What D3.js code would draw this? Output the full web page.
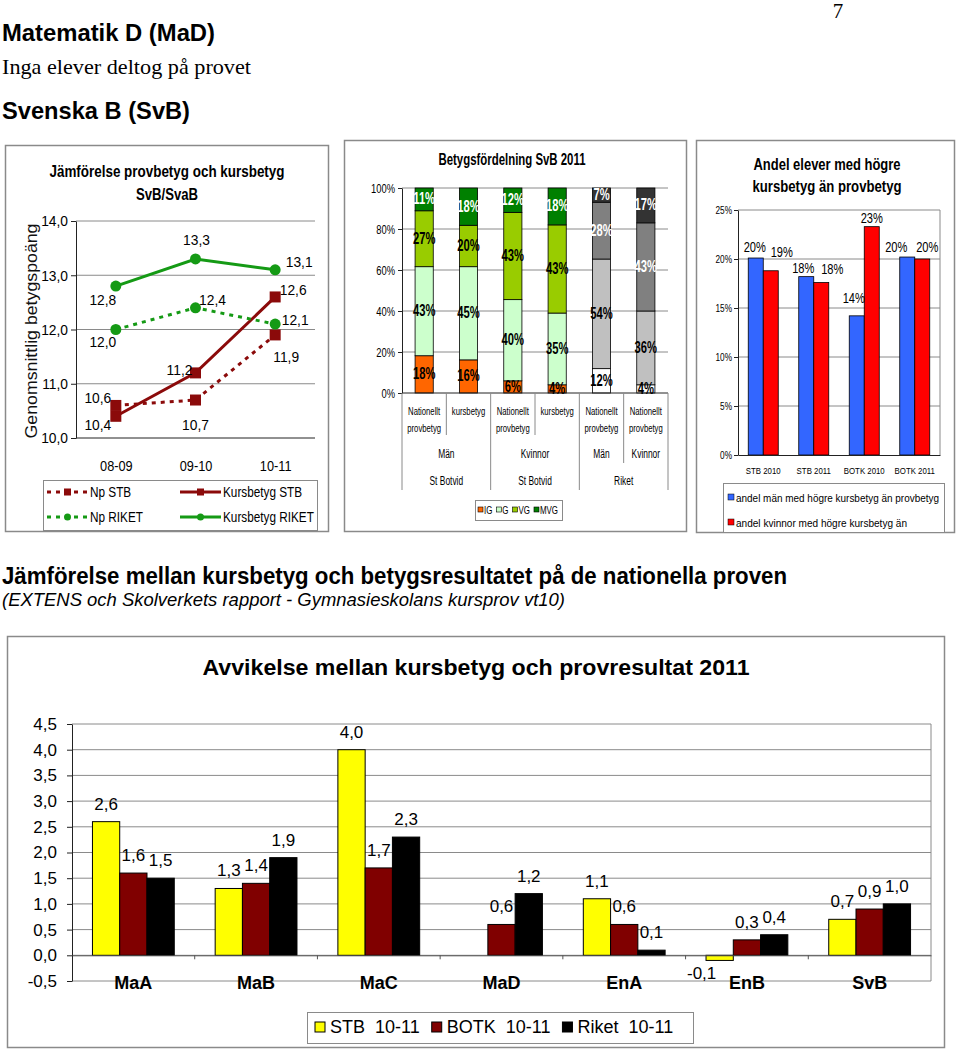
<!DOCTYPE html>
<html><head><meta charset="utf-8">
<script src="https://cdn.jsdelivr.net/npm/d3@7/dist/d3.min.js"></script>
<style>
html,body{margin:0;padding:0;background:#fff;}
svg{display:block;}
svg text{font-family:"Liberation Sans",Arial,Helvetica,sans-serif;}
</style></head>
<body><svg id="page" width="960" height="1053"></svg>
<script>
// ================= DATA =================
// Chart 1: line chart
const lineYears = ["08-09","09-10","10-11"];
const lineSeriesNames = ["Np STB","Kursbetyg STB","Np RIKET","Kursbetyg RIKET"];
const npSTB = [10.6,10.7,11.9];
const kursSTB = [10.4,11.2,12.6];
const npRiket = [12.0,12.4,12.1];
const kursRiket = [12.8,13.3,13.1];
const lineTicks = [10,11,12,13,14];

// Chart 2: 100% stacked distribution
const gradeNames = ["IG","G","VG","MVG"];
const distLevel1 = ["Nationellt provbetyg","kursbetyg","Nationellt provbetyg","kursbetyg","Nationellt provbetyg","Nationellt provbetyg"];
const distLevel2 = ["Män","Kvinnor","Män","Kvinnor"];
const distLevel2Span = [2,2,1,1];
const distLevel3 = ["St Botvid","St Botvid","Riket"];
const distLevel3Span = [2,2,2];
const distIG  = [18,16,6,4,12,4];
const distG   = [43,45,40,35,54,36];
const distVG  = [27,20,43,43,28,43];
const distMVG = [11,18,12,18,7,17];
const distTicks = [0,0.2,0.4,0.6,0.8,1];

// Chart 3: share with higher course grade
const shareCats = ["STB 2010","STB 2011","BOTK 2010","BOTK 2011"];
const shareMen   = [20.1,18.2,14.2,20.2];
const shareWomen = [18.8,17.6,23.3,20.0];
const shareNames = ["andel män med högre kursbetyg än provbetyg","andel kvinnor med högre kursbetyg än"];
const shareTicks = [0,5,10,15,20,25];

// Chart 4: deviation per course
const courses  = ["MaA","MaB","MaC","MaD","EnA","EnB","SvB"];
const devSTB   = [2.6,1.3,4.0,null,1.1,-0.1,0.7];
const devBOTK  = [1.6,1.4,1.7,0.6,0.6,0.3,0.9];
const devRiket = [1.5,1.9,2.3,1.2,0.1,0.4,1.0];
const devNames = ["STB  10-11","BOTK  10-11","Riket  10-11"];
const devTicks = [-0.5,0,0.5,1,1.5,2,2.5,3,3.5,4,4.5];

// ================= STYLE / LAYOUT =================
const SERIF = '"Liberation Serif","Times New Roman",serif';
const RED = "#8b0a0a", GREEN = "#159a15";
const greenPal = ["#FF6600","#CCFFCC","#99CC00","#008000"];
const greyPal  = ["#FFFFFF","#C0C0C0","#808080","#333333"];
const greenTxt = ["#000","#000","#000","#fff"];
const greyTxt  = ["#000","#000","#fff","#fff"];
// label nudges (dx, dy from default placement)
const lineLabelNudge = [
  [[-18,-2],[0,30],[11,27]],
  [[-18,14],[-16,2],[18,-2]],
  [[-13,17],[17,-3],[20,1]],
  [[-13,19],[1,-14],[24,-3]]
];
const shareNudge = [
  [[-1,-2],[-3,0],[-3,-9],[-11,-1]],
  [[11,-10],[11,-5],[0,0],[5,-3]]
];
const negLabelShift = -18;

const svg = d3.select("#page");
const comma1 = d => d3.format(".1f")(d).replace("\u2212","-").replace(".", ",");

function squeeze(sel, f){
  sel.each(function(){
    const w = this.getComputedTextLength();
    if (w > 0 && f !== 1) d3.select(this).attr("textLength", w*f).attr("lengthAdjust","spacingAndGlyphs");
  });
  return sel;
}
function textW(t){ return +t.attr("textLength") || t.node().getComputedTextLength(); }
function addText(parent, s, x, y, o = {}){
  const t = parent.append("text").attr("x", x).attr("y", y).text(s)
    .attr("text-anchor", o.anchor || "start")
    .style("font-size", (o.size || 12) + "px")
    .style("font-weight", o.bold ? "bold" : "normal")
    .attr("fill", o.fill || "#000");
  if (o.italic) t.style("font-style","italic");
  if (o.family) t.style("font-family", o.family);
  if (o.pre) t.style("white-space","pre");
  if (o.width) t.attr("textLength", o.width).attr("lengthAdjust","spacingAndGlyphs");
  else if (o.squeeze) squeeze(t, o.squeeze);
  return t;
}
function styleAxis(ax, size, f, col){
  ax.select(".domain").attr("stroke", col || "#222").attr("stroke-width",1);
  ax.selectAll(".tick line").attr("stroke", col || "#222");
  ax.selectAll(".tick text").style("font-size", size+"px").attr("fill","#000");
  if (f) squeeze(ax.selectAll(".tick text"), f);
}

// ================= PAGE TEXT =================
addText(svg,"7",838,18,{anchor:"middle",size:21,family:SERIF});
addText(svg,"Matematik D (MaD)",2,41,{size:24,bold:true,width:213});
addText(svg,"Inga elever deltog på provet",2,74,{size:21,family:SERIF,width:249});
addText(svg,"Svenska B (SvB)",2,119,{size:24,bold:true,width:188});
addText(svg,"Jämförelse mellan kursbetyg och betygsresultatet på de nationella proven",2,584,{size:23,bold:true,width:785});
addText(svg,"(EXTENS och Skolverkets rapport - Gymnasieskolans kursprov vt10)",2,606,{size:18,italic:true,width:563});

// ================= CHART 1 =================
(function(){
  const g = svg.append("g");
  g.append("rect").attr("x",5.5).attr("y",145.5).attr("width",323).attr("height",386)
    .attr("fill","none").attr("stroke","#8a8a8a").attr("stroke-width",1.5);
  addText(g,"Jämförelse provbetyg och kursbetyg",167,177,{anchor:"middle",size:16,bold:true,width:235});
  addText(g,"SvB/SvaB",167,200,{anchor:"middle",size:16,bold:true,width:62});

  const x = d3.scalePoint().domain(lineYears).range([76,315]).padding(0.5);
  const y = d3.scaleLinear().domain([10,14]).range([438,221]);

  g.append("g").selectAll("line").data(lineTicks.slice(1)).join("line")
    .attr("x1",76).attr("x2",315).attr("y1",d=>y(d)).attr("y2",d=>y(d))
    .attr("stroke","#8a8a8a");
  const ay = g.append("g").attr("transform","translate(76,0)")
    .call(d3.axisLeft(y).tickValues(lineTicks).tickSize(5).tickPadding(3).tickSizeOuter(0).tickFormat(comma1));
  styleAxis(ay, 15, 0.92);
  const ax = g.append("g").attr("transform","translate(0,438)")
    .call(d3.axisBottom(x).tickSize(0).tickPadding(22));
  styleAxis(ax, 15, 0.85);
  ax.select(".domain").attr("d","M76,0H315");

  addText(g,"Genomsnittlig betygspoäng",0,0,{anchor:"middle",size:17,width:215,fill:"#111"})
    .attr("transform","translate(37,331) rotate(-90)");

  const series = [
    {name:lineSeriesNames[0], v:npSTB,     c:RED,   dash:"4,5", m:"square"},
    {name:lineSeriesNames[1], v:kursSTB,   c:RED,   dash:null,  m:"square"},
    {name:lineSeriesNames[2], v:npRiket,   c:GREEN, dash:"4,5", m:"circle"},
    {name:lineSeriesNames[3], v:kursRiket, c:GREEN, dash:null,  m:"circle"}
  ];
  const line = d3.line().x((d,i)=>x(lineYears[i])).y(d=>y(d));
  function marker(parent, cx, cy, type, col, s){
    if (type === "square") parent.append("rect").attr("x",cx-s/2).attr("y",cy-s/2).attr("width",s).attr("height",s).attr("fill",col);
    else parent.append("circle").attr("cx",cx).attr("cy",cy).attr("r",s/2).attr("fill",col);
  }
  series.forEach(s=>{
    g.append("path").attr("d",line(s.v)).attr("fill","none").attr("stroke",s.c)
      .attr("stroke-width",3).attr("stroke-dasharray",s.dash);
  });
  series.forEach(s=>{
    s.v.forEach((d,i)=> marker(g, x(lineYears[i]), y(d), s.m, s.c, 11));
  });
  series.forEach((s,si)=>{
    s.v.forEach((d,i)=>{
      const n = lineLabelNudge[si][i];
      addText(g, comma1(d), x(lineYears[i])+n[0], y(d)+n[1], {anchor:"middle",size:15,squeeze:0.92});
    });
  });

  // legend
  const lg = g.append("g");
  lg.append("rect").attr("x",43.5).attr("y",480.5).attr("width",274).attr("height",50)
    .attr("fill","#fff").attr("stroke","#8a8a8a");
  series.forEach((s,i)=>{
    const col = i % 2, row = Math.floor(i/2);
    const x0 = 47 + col*133, yy = 492 + row*25;
    lg.append("line").attr("x1",x0).attr("x2",x0+41).attr("y1",yy).attr("y2",yy)
      .attr("stroke",s.c).attr("stroke-width",3).attr("stroke-dasharray",s.dash);
    marker(lg, x0+20.5, yy, s.m, s.c, 7);
    addText(lg, s.name, x0+43, yy+5, {size:14,squeeze:0.84});
  });
})();

// ================= CHART 2 =================
(function(){
  const g = svg.append("g");
  g.append("rect").attr("x",344.5).attr("y",140.5).attr("width",342).attr("height",391)
    .attr("fill","none").attr("stroke","#8a8a8a").attr("stroke-width",1.5);
  addText(g,"Betygsfördelning SvB 2011",512,165,{anchor:"middle",size:16,bold:true,width:147});

  const n = distIG.length;
  const x = d3.scaleBand().domain(d3.range(n)).range([402,668]);
  const y = d3.scaleLinear().domain([0,1]).range([393,188]);
  const bw = x.bandwidth()*0.41;

  g.append("g").selectAll("line").data(distTicks.slice(1)).join("line")
    .attr("x1",402).attr("x2",668).attr("y1",d=>y(d)).attr("y2",d=>y(d)).attr("stroke","#8a8a8a");

  const site = [];
  distLevel3.forEach((l,j)=>{ for (let k=0;k<distLevel3Span[j];k++) site.push(l); });
  const rows = d3.range(n).map(i=>({IG:distIG[i],G:distG[i],VG:distVG[i],MVG:distMVG[i]}));
  const stacked = d3.stack().keys(gradeNames).offset(d3.stackOffsetExpand)(rows);

  stacked.forEach((layer,li)=>{
    g.append("g").selectAll("rect").data(layer).join("rect")
      .attr("x",(d,i)=>x(i)+(x.bandwidth()-bw)/2).attr("width",bw)
      .attr("y",d=>y(d[1])).attr("height",d=>y(d[0])-y(d[1]))
      .attr("fill",(d,i)=>(site[i]==="Riket"?greyPal:greenPal)[li])
      .attr("stroke","#000").attr("stroke-width",0.8);
  });

  const ay = g.append("g").attr("transform","translate(402,0)")
    .call(d3.axisLeft(y).tickValues(distTicks).tickSize(4).tickPadding(3).tickSizeOuter(0).tickFormat(d3.format(".0%")));
  styleAxis(ay, 13, 0.72);
  g.append("line").attr("x1",402).attr("x2",668).attr("y1",393).attr("y2",393).attr("stroke","#222");

  stacked.forEach((layer,li)=>{
    layer.forEach((d,i)=>{
      addText(g, rows[i][layer.key]+"%", x(i)+x.bandwidth()/2, y((d[0]+d[1])/2)+5,
        {anchor:"middle",size:16,bold:true,squeeze:0.7,fill:(site[i]==="Riket"?greyTxt:greenTxt)[li]});
    });
  });

  // multi-level category axis
  const b3 = new Set([0]); let c = 0; distLevel3Span.forEach(s=>{ c+=s; b3.add(c); });
  const b2 = new Set([0]); c = 0; distLevel2Span.forEach(s=>{ c+=s; b2.add(c); });
  d3.range(n+1).forEach(e=>{
    const xe = e < n ? x(e) : x.range()[1];
    const depth = b3.has(e) ? 490 : (b2.has(e) ? 463 : 435);
    g.append("line").attr("x1",xe).attr("x2",xe).attr("y1",393).attr("y2",depth).attr("stroke","#8a8a8a");
  });
  distLevel1.forEach((lab,i)=>{
    lab.split(" ").forEach((w,k)=>{
      addText(g, w, x(i)+x.bandwidth()/2, 415+17*k, {anchor:"middle",size:11,squeeze:0.7});
    });
  });
  c = 0;
  distLevel2.forEach((lab,j)=>{
    const cx = (x(c) + x(c+distLevel2Span[j]-1) + x.bandwidth())/2;
    addText(g, lab, cx, 458, {anchor:"middle",size:12,squeeze:0.7});
    c += distLevel2Span[j];
  });
  c = 0;
  distLevel3.forEach((lab,j)=>{
    const cx = (x(c) + x(c+distLevel3Span[j]-1) + x.bandwidth())/2;
    addText(g, lab, cx, 485, {anchor:"middle",size:12,squeeze:0.7});
    c += distLevel3Span[j];
  });

  // legend
  const lg = g.append("g");
  lg.append("rect").attr("x",475.5).attr("y",500.5).attr("width",87).attr("height",20)
    .attr("fill","#fff").attr("stroke","#8a8a8a");
  let cx = 478;
  gradeNames.forEach((k,i)=>{
    lg.append("rect").attr("x",cx).attr("y",507).attr("width",5).attr("height",5)
      .attr("fill",greenPal[i]).attr("stroke","#000").attr("stroke-width",0.6);
    const t = addText(lg, k, cx+6, 514, {size:11,squeeze:0.72});
    cx += 6 + textW(t) + 4;
  });
})();

// ================= CHART 3 =================
(function(){
  const g = svg.append("g");
  g.append("rect").attr("x",696.5).attr("y",140.5).attr("width",258).attr("height",392)
    .attr("fill","none").attr("stroke","#8a8a8a").attr("stroke-width",1.5);
  addText(g,"Andel elever med högre",827,170,{anchor:"middle",size:16,bold:true,width:147});
  addText(g,"kursbetyg än provbetyg",827,192,{anchor:"middle",size:16,bold:true,width:149});

  const x = d3.scaleBand().domain(shareCats).range([738,940]);
  const y = d3.scaleLinear().domain([0,25]).range([455,210]);
  const xs = d3.scaleBand().domain([0,1]).range([0,30]);
  const off = (x.bandwidth()-30)/2;

  g.append("g").selectAll("line").data(shareTicks.slice(1)).join("line")
    .attr("x1",738).attr("x2",940).attr("y1",d=>y(d)).attr("y2",d=>y(d)).attr("stroke","#8a8a8a");
  g.append("line").attr("x1",940).attr("x2",940).attr("y1",210).attr("y2",455).attr("stroke","#8a8a8a");

  const sets = [shareMen, shareWomen];
  const cols = ["#3366FF","#FF0000"];
  sets.forEach((vals,si)=>{
    g.append("g").selectAll("rect").data(vals).join("rect")
      .attr("x",(d,i)=>x(shareCats[i])+off+xs(si)).attr("width",xs.bandwidth())
      .attr("y",d=>y(d)).attr("height",d=>y(0)-y(d))
      .attr("fill",cols[si]).attr("stroke","#000").attr("stroke-width",0.8);
  });

  const ay = g.append("g").attr("transform","translate(738,0)")
    .call(d3.axisLeft(y).tickValues(shareTicks).tickSize(4).tickPadding(2).tickSizeOuter(0).tickFormat(d=>d+"%"));
  styleAxis(ay, 11, 0.75);
  const ax = g.append("g").attr("transform","translate(0,455)")
    .call(d3.axisBottom(x).tickSize(0).tickPadding(12).tickSizeOuter(0));
  styleAxis(ax, 9.8, 0.8);

  sets.forEach((vals,si)=>{
    vals.forEach((d,i)=>{
      const nd = shareNudge[si][i];
      addText(g, Math.round(d)+"%", x(shareCats[i])+off+xs(si)+xs.bandwidth()/2+nd[0], y(d)-4+nd[1],
        {anchor:"middle",size:15,squeeze:0.74});
    });
  });

  const lg = g.append("g");
  lg.append("rect").attr("x",723.5).attr("y",483.5).attr("width",221).attr("height",49)
    .attr("fill","#fff").attr("stroke","#8a8a8a");
  shareNames.forEach((nm,i)=>{
    const yy = 497 + i*25;
    lg.append("rect").attr("x",728).attr("y",yy-3).attr("width",6).attr("height",6)
      .attr("fill",cols[i]).attr("stroke","#000").attr("stroke-width",0.5);
    addText(lg, nm, 736, yy+5, {size:10.5,width: i===0 ? 203 : 171});
  });
})();

// ================= CHART 4 =================
(function(){
  const g = svg.append("g");
  g.append("rect").attr("x",7.5).attr("y",636.5).attr("width",937).attr("height",411)
    .attr("fill","none").attr("stroke","#8a8a8a").attr("stroke-width",1.5);
  addText(g,"Avvikelse mellan kursbetyg och provresultat 2011",476,675,{anchor:"middle",size:22,bold:true,width:547});

  const x = d3.scaleBand().domain(courses).range([72,931]);
  const groupW = x.bandwidth()/1.5;
  const xs = d3.scaleBand().domain(devNames).range([0,groupW]);
  const off = (x.bandwidth()-groupW)/2;
  const y = d3.scaleLinear().domain([-0.5,4.5]).range([981,724]);

  g.append("g").selectAll("line").data(devTicks).join("line")
    .attr("x1",72).attr("x2",931).attr("y1",d=>y(d)).attr("y2",d=>y(d)).attr("stroke","#8a8a8a");
  g.append("line").attr("x1",931).attr("x2",931).attr("y1",724).attr("y2",981).attr("stroke","#8a8a8a");

  const sets = [devSTB, devBOTK, devRiket];
  const cols = ["#FFFF00","#800000","#000000"];
  sets.forEach((vals,si)=>{
    g.append("g").selectAll("rect").data(vals.map((v,i)=>({v,i})).filter(d=>d.v!==null)).join("rect")
      .attr("x",d=>x(courses[d.i])+off+xs(devNames[si])).attr("width",xs.bandwidth())
      .attr("y",d=>y(Math.max(0,d.v))).attr("height",d=>Math.abs(y(d.v)-y(0)))
      .attr("fill",cols[si]).attr("stroke","#000").attr("stroke-width",1);
  });

  const ay = g.append("g").attr("transform","translate(72,0)")
    .call(d3.axisLeft(y).tickValues(devTicks).tickSize(5).tickPadding(10).tickSizeOuter(0).tickFormat(comma1));
  styleAxis(ay, 17, 1);
  const a0 = g.append("g").attr("transform",`translate(0,${y(0)})`)
    .call(d3.axisBottom(x).tickSize(0).tickSizeOuter(0).tickFormat(""));
  a0.select(".domain").attr("stroke","#555");
  courses.slice(1).forEach(cn=>{
    g.append("line").attr("x1",x(cn)).attr("x2",x(cn)).attr("y1",y(0)).attr("y2",y(0)+4).attr("stroke","#555");
  });
  const al = g.append("g").attr("transform","translate(0,981)")
    .call(d3.axisBottom(x).tickSize(0).tickPadding(-5));
  al.select(".domain").remove();
  al.selectAll(".tick text").style("font-size","18px").style("font-weight","bold").attr("fill","#000");

  sets.forEach((vals,si)=>{
    vals.forEach((v,i)=>{
      if (v === null) return;
      const cx = x(courses[i])+off+xs(devNames[si])+xs.bandwidth()/2 + (v < 0 ? negLabelShift : 0);
      const yy = v >= 0 ? y(v)-12 : y(v)+19;
      addText(g, comma1(v), cx, yy, {anchor:"middle",size:17});
    });
  });

  // legend
  const lg = g.append("g");
  lg.append("rect").attr("x",307.5).attr("y",1012.5).attr("width",386).attr("height",31)
    .attr("fill","#fff").attr("stroke","#8a8a8a");
  let cx = 315;
  devNames.forEach((nm,i)=>{
    lg.append("rect").attr("x",cx).attr("y",1022).attr("width",10).attr("height",10)
      .attr("fill",cols[i]).attr("stroke","#000").attr("stroke-width",1);
    const t = addText(lg, nm, cx+15, 1033, {size:18,pre:true});
    cx += 15 + textW(t) + 12;
  });
})();
</script>
</body></html>
